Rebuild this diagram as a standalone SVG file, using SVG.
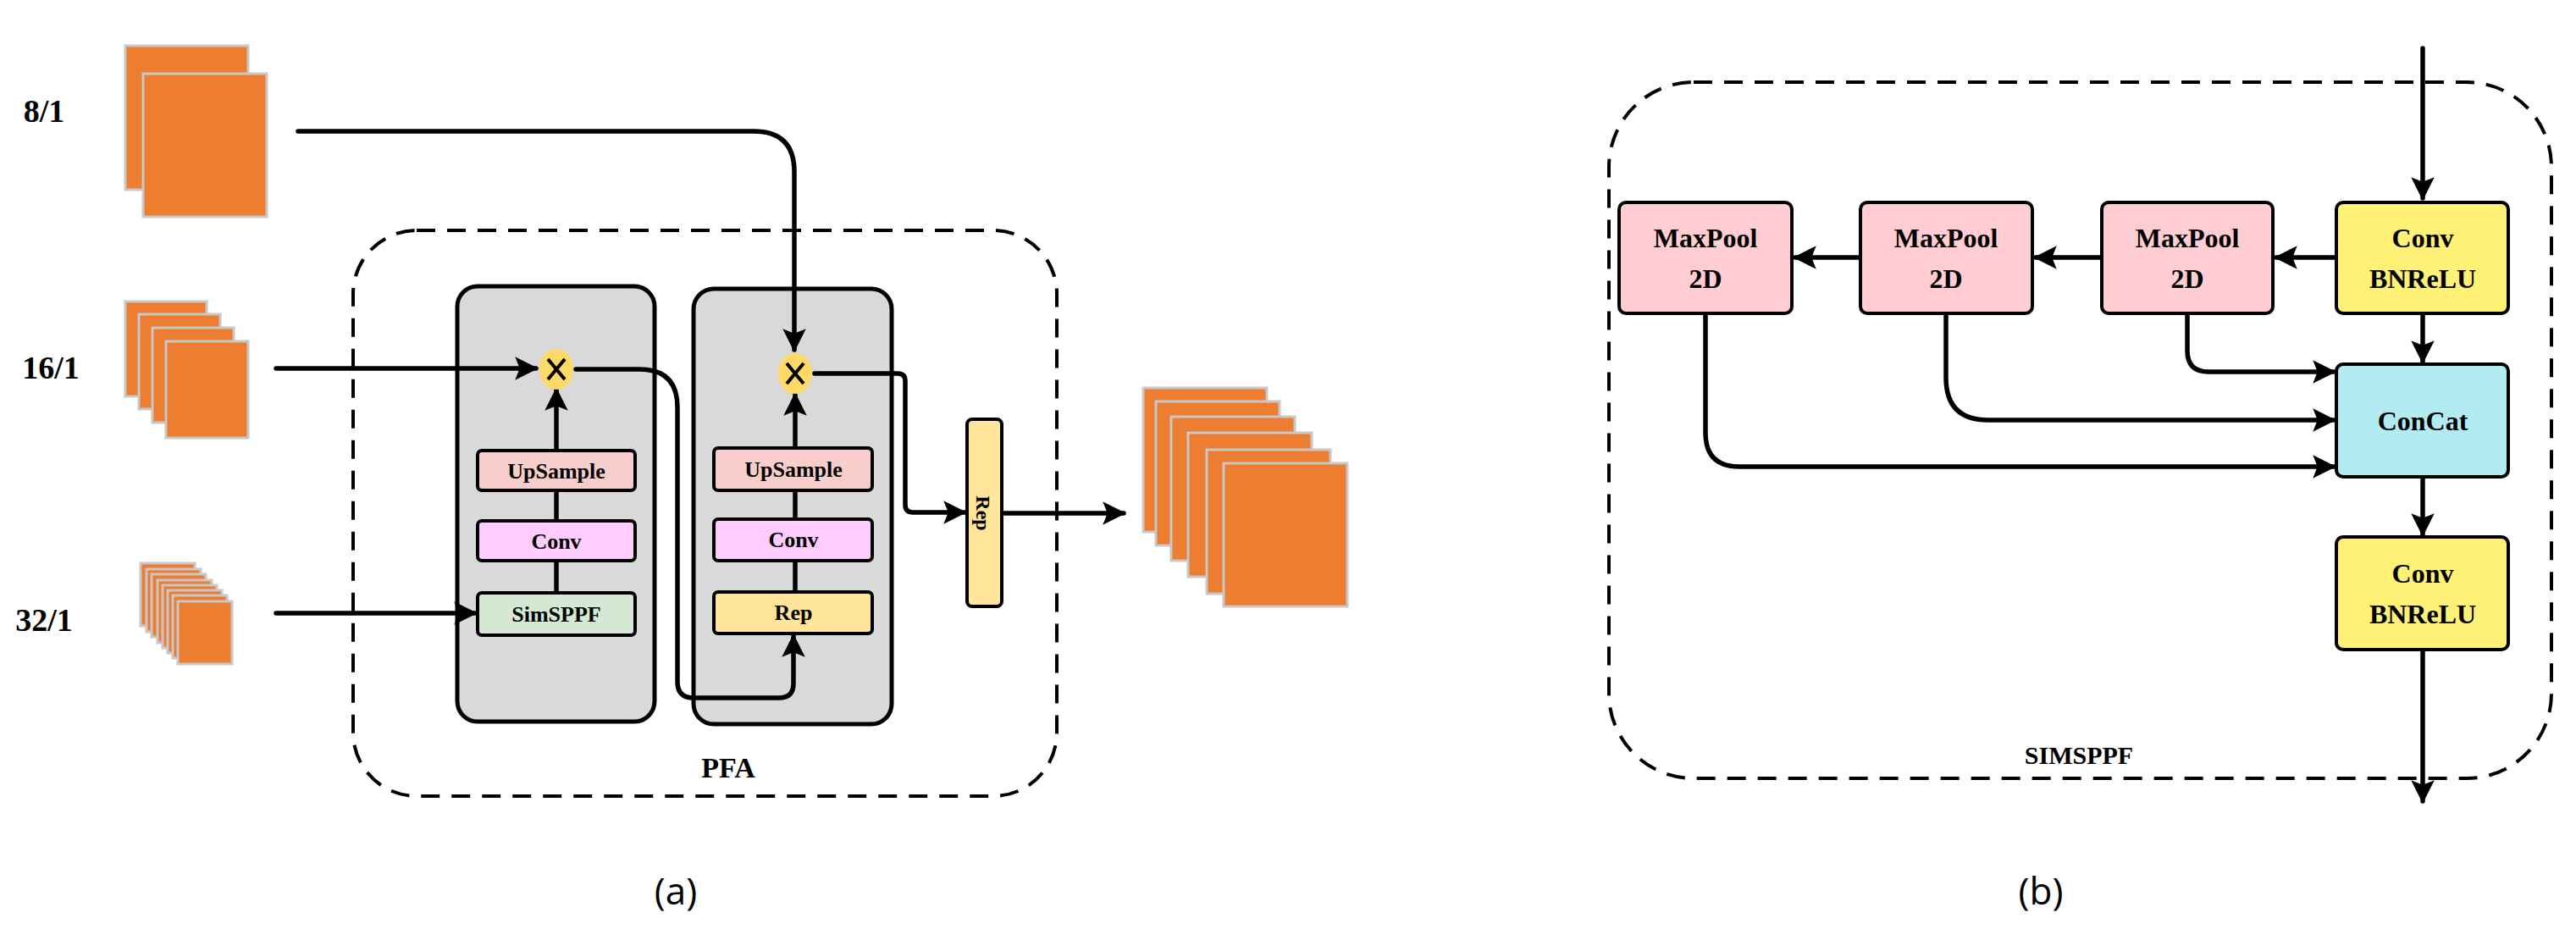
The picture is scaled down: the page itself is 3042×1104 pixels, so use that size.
<svg xmlns="http://www.w3.org/2000/svg" width="3042" height="1104" viewBox="0 0 3042 1104">
<style>
.fm{fill:#ED7D31;stroke:#C8C8C8;stroke-width:3}
.ln{fill:none;stroke:#000;stroke-width:5.5;stroke-linecap:round;stroke-linejoin:round}
.dash{fill:none;stroke:#000;stroke-width:4;stroke-dasharray:22,14}
.bx{stroke:#000;stroke-width:4}
.t{font-family:"Liberation Serif",serif;font-weight:bold;fill:#000;text-anchor:middle}
.cap{font-family:"Open Sans",sans-serif;font-size:44px;fill:#000;text-anchor:middle}
</style>
<defs>
<marker id="ah" viewBox="0 0 10 10" refX="9" refY="5" markerWidth="5" markerHeight="5" orient="auto" markerUnits="strokeWidth">
<path d="M0,0 L10,5 L0,10 L2,5 z" fill="#000"/>
</marker>
</defs>
<rect width="3042" height="1104" fill="#fff"/>

<g id="labels">
<text class="t" x="52" y="144" font-size="38">8/1</text>
<text class="t" x="60" y="447" font-size="38">16/1</text>
<text class="t" x="52" y="745" font-size="38">32/1</text>
</g>
<g id="fm8">
<rect class="fm" x="148" y="54" width="145" height="170"/>
<rect class="fm" x="169" y="87" width="146" height="169"/>
</g>
<g id="fm16">
<rect class="fm" x="148" y="356" width="96" height="112"/>
<rect class="fm" x="164" y="371" width="96" height="112"/>
<rect class="fm" x="180" y="387" width="96" height="112"/>
<rect class="fm" x="196" y="403" width="97" height="114"/>
</g>
<g id="fm32">
<rect class="fm" x="166" y="665" width="64" height="74"/>
<rect class="fm" x="173" y="672" width="64" height="74"/>
<rect class="fm" x="179" y="678" width="64" height="74"/>
<rect class="fm" x="186" y="685" width="64" height="74"/>
<rect class="fm" x="192" y="691" width="64" height="74"/>
<rect class="fm" x="198" y="697" width="64" height="74"/>
<rect class="fm" x="204" y="703" width="64" height="74"/>
<rect class="fm" x="210" y="710" width="64" height="74"/>
</g>

<g id="pfa">
<rect class="dash" x="417" y="272" width="831" height="668" rx="75"/>
<text class="t" x="860" y="918" font-size="34">PFA</text>
</g>
<g id="col1">
<rect x="540" y="338" width="233" height="514" rx="24" fill="#D9D9D9" stroke="#000" stroke-width="5"/>
</g>
<g id="col2">
<rect x="819" y="341" width="234" height="514" rx="24" fill="#D9D9D9" stroke="#000" stroke-width="5"/>
</g>

<g id="connectors">
<path class="ln" d="M352,155 H890 Q938,155 938,203 V413" marker-end="url(#ah)"/>
<path class="ln" d="M326,435 H633" marker-end="url(#ah)"/>
<path class="ln" d="M326,724 H561" marker-end="url(#ah)"/>
<path class="ln" d="M657,532 V460" marker-end="url(#ah)"/>
<path class="ln" d="M657,615 V579 M657,700 V662"/>
<path class="ln" d="M939,529 V466" marker-end="url(#ah)"/>
<path class="ln" d="M939,613 V579 M939,699 V662"/>
<path class="ln" d="M680,436 H755 Q800,436 800,481 V805 Q800,824 819,824 H920 Q937,824 937,807 V751" marker-end="url(#ah)"/>
<path class="ln" d="M962,441 H1060 Q1069,441 1069,450 V596 Q1069,605 1078,605 H1139" marker-end="url(#ah)"/>
<path class="ln" d="M1183,606 H1327" marker-end="url(#ah)"/>
<path class="ln" d="M2861,57 V234" marker-end="url(#ah)"/>
<path class="ln" d="M2759,304 H2688" marker-end="url(#ah)"/>
<path class="ln" d="M2482,304 H2404" marker-end="url(#ah)"/>
<path class="ln" d="M2197,304 H2120" marker-end="url(#ah)"/>
<path class="ln" d="M2861,370 V427" marker-end="url(#ah)"/>
<path class="ln" d="M2861,563 V631" marker-end="url(#ah)"/>
<path class="ln" d="M2861,767 V946" marker-end="url(#ah)"/>
<path class="ln" d="M2583,370 V414 Q2583,439 2608,439 H2756" marker-end="url(#ah)"/>
<path class="ln" d="M2298,370 V446 Q2298,496 2348,496 H2756" marker-end="url(#ah)"/>
<path class="ln" d="M2014,370 V511 Q2014,551 2054,551 H2756" marker-end="url(#ah)"/>
</g>

<g id="mul1"><ellipse cx="657" cy="436" rx="20" ry="24" fill="#FFD966"/><path d="M647,424 L667,448 M667,424 L647,448" stroke="#000" stroke-width="4"/></g>
<g id="mul2"><ellipse cx="939" cy="441" rx="20" ry="24" fill="#FFD966"/><path d="M929,429 L949,453 M949,429 L929,453" stroke="#000" stroke-width="4"/></g>

<g id="up1"><rect class="bx" x="564" y="532" width="186" height="47" rx="5" fill="#F8CECC"/><text class="t" x="657" y="565" font-size="26">UpSample</text></g>
<g id="conv1"><rect class="bx" x="564" y="615" width="186" height="47" rx="5" fill="#FFCCFF"/><text class="t" x="657" y="648" font-size="26">Conv</text></g>
<g id="simsppf1"><rect class="bx" x="564" y="700" width="186" height="50" rx="5" fill="#D5E8D4"/><text class="t" x="657" y="734" font-size="26">SimSPPF</text></g>
<g id="up2"><rect class="bx" x="843" y="529" width="187" height="50" rx="5" fill="#F8CECC"/><text class="t" x="937" y="563" font-size="26">UpSample</text></g>
<g id="conv2"><rect class="bx" x="843" y="613" width="187" height="49" rx="5" fill="#FFCCFF"/><text class="t" x="937" y="646" font-size="26">Conv</text></g>
<g id="rep1"><rect class="bx" x="843" y="699" width="187" height="49" rx="5" fill="#FFE599"/><text class="t" x="937" y="732" font-size="26">Rep</text></g>
<g id="rep2"><rect class="bx" x="1142" y="495" width="41" height="221" rx="6" fill="#FFE599"/><text class="t" x="0" y="0" font-size="24" transform="translate(1153,606) rotate(90)">Rep</text></g>

<g id="fmout">
<rect class="fm" x="1350" y="458" width="146" height="170"/>
<rect class="fm" x="1365" y="474" width="146" height="170"/>
<rect class="fm" x="1383" y="492" width="146" height="170"/>
<rect class="fm" x="1403" y="511" width="146" height="170"/>
<rect class="fm" x="1425" y="531" width="146" height="170"/>
<rect class="fm" x="1445" y="547" width="146" height="169"/>
</g>
<text class="cap" x="798" y="1068">(a)</text>

<g id="simsppf">
<rect class="dash" x="1900" y="97" width="1113" height="822" rx="100"/>
<text class="t" x="2455" y="902" font-size="30">SIMSPPF</text>
</g>
<g id="cbr1"><rect class="bx" x="2759" y="239" width="203" height="131" rx="8" fill="#FFF176"/><text class="t" x="2861" y="292" font-size="32">Conv</text><text class="t" x="2861" y="340" font-size="32">BNReLU</text></g>
<g id="mp3"><rect class="bx" x="2482" y="239" width="202" height="131" rx="8" fill="#FFCDD2"/><text class="t" x="2583" y="292" font-size="32">MaxPool</text><text class="t" x="2583" y="340" font-size="32">2D</text></g>
<g id="mp2"><rect class="bx" x="2197" y="239" width="203" height="131" rx="8" fill="#FFCDD2"/><text class="t" x="2298" y="292" font-size="32">MaxPool</text><text class="t" x="2298" y="340" font-size="32">2D</text></g>
<g id="mp1"><rect class="bx" x="1912" y="239" width="204" height="131" rx="8" fill="#FFCDD2"/><text class="t" x="2014" y="292" font-size="32">MaxPool</text><text class="t" x="2014" y="340" font-size="32">2D</text></g>
<g id="concat"><rect class="bx" x="2759" y="430" width="203" height="133" rx="8" fill="#B2EBF2"/><text class="t" x="2861" y="508" font-size="32">ConCat</text></g>
<g id="cbr2"><rect class="bx" x="2759" y="634" width="203" height="133" rx="8" fill="#FFF176"/><text class="t" x="2861" y="688" font-size="32">Conv</text><text class="t" x="2861" y="736" font-size="32">BNReLU</text></g>
<text class="cap" x="2410" y="1068">(b)</text>
</svg>
